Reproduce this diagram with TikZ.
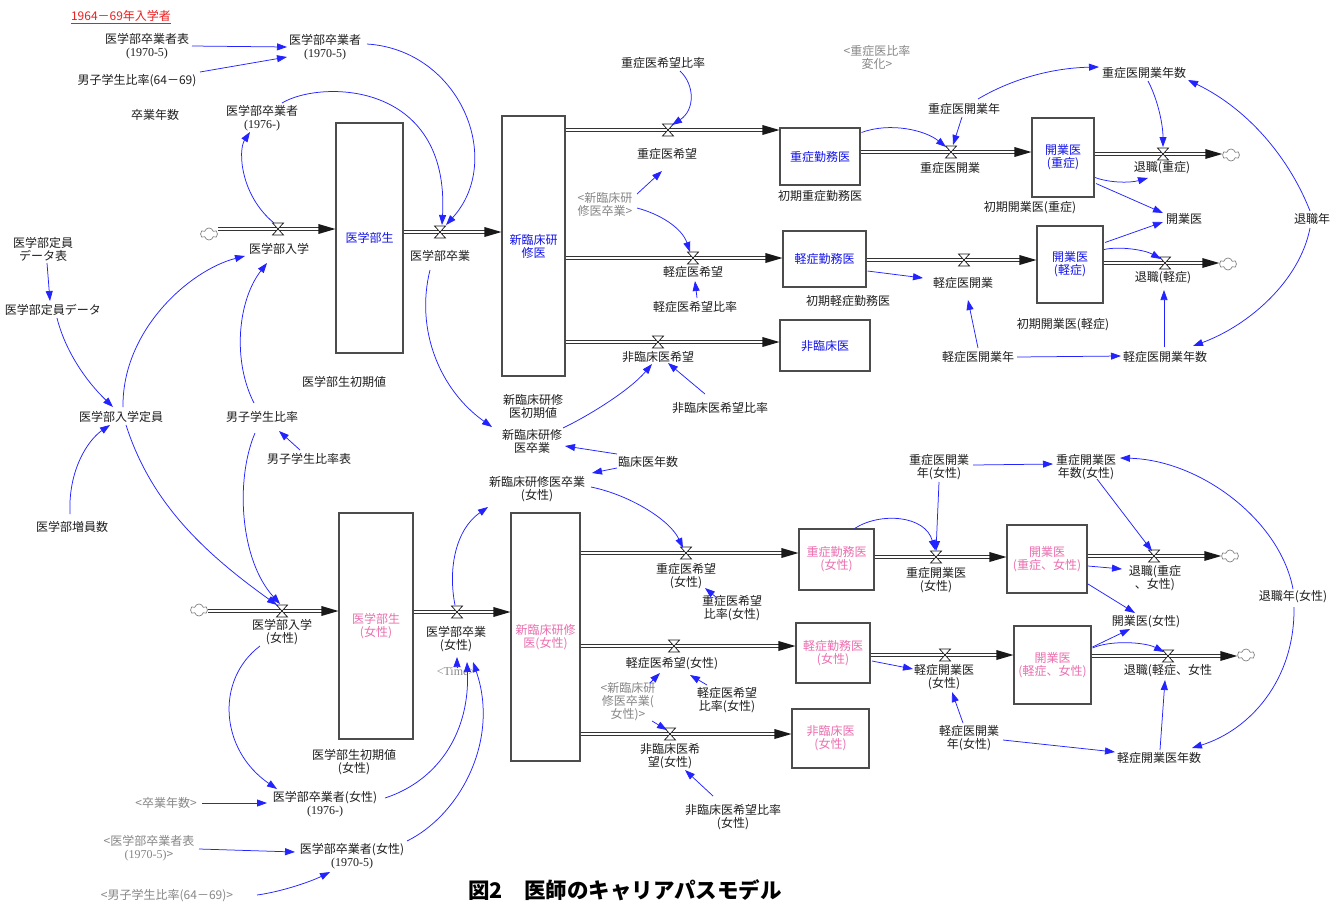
\documentclass[tikz,border=0pt]{standalone}
\usepackage{fontspec}
\setmainfont{Noto Sans CJK JP}
\newfontfamily\serifl{Liberation Serif}
\usetikzlibrary{arrows.meta,calc,shapes.symbols}
\definecolor{linkblue}{RGB}{35,35,255}
\definecolor{stockblue}{RGB}{20,20,235}
\definecolor{stockpink}{RGB}{236,110,175}
\definecolor{shadowgray}{RGB}{135,135,135}
\definecolor{titlered}{RGB}{235,30,30}
\tikzset{
  tippic/.pic={\fill[black!90] (0,0) -- (-17,-5) -- (-17,5) -- cycle;},
  valvepic/.pic={\draw[black!90, line width=0.7pt, fill=white] (-5.5,-6) -- (5.5,-6) -- (-5.5,6) -- (5.5,6) -- cycle;}
}
\begin{document}
\begin{tikzpicture}[x=1pt,y=-1pt,
  lbl/.style={font=\fontsize{12}{13}\selectfont, align=center, inner sep=1pt, text=black!88},
  shadowlbl/.style={lbl, text=shadowgray},
  stockbox/.style={draw=black!70, line width=1.1pt, fill=white, align=center, inner sep=0pt, font=\fontsize{12}{13}\selectfont},
  stockM/.style={stockbox, text=stockblue},
  stockF/.style={stockbox, text=stockpink},
  pipe/.style={draw=black!80, line width=0.9pt, double=white, double distance=2.2pt, shorten >=8pt},
  info/.style={draw=linkblue, line width=0.75pt, -{Triangle[length=10pt,width=7pt]}},
  src/.style={cloud, cloud puffs=6, aspect=1.4, draw=black!50, line width=0.7pt, minimum width=17pt, minimum height=12pt, inner sep=0pt, fill=white}
]
\fill[white] (0,0) rectangle (1341,903);
\useasboundingbox (0,0) rectangle (1341,903);

% ---------- stocks ----------
\node[stockM, minimum width=67pt, minimum height=230pt] (sIG) at (369.5,238) {医学部生};
\node[stockM, minimum width=63pt, minimum height=260pt] (sSR) at (533.5,246) {新臨床研\\修医};
\node[stockM, minimum width=80pt, minimum height=57pt] (sJK) at (820,156.5) {重症勤務医};
\node[stockM, minimum width=83pt, minimum height=56pt] (sKK) at (824.5,259) {軽症勤務医};
\node[stockM, minimum width=90pt, minimum height=51pt] (sHR) at (825,345.5) {非臨床医};
\node[stockM, minimum width=62pt, minimum height=79pt] (sKJ) at (1063,157.5) {開業医\\(重症)};
\node[stockM, minimum width=66pt, minimum height=77pt] (sKL) at (1070,264.5) {開業医\\(軽症)};
\node[stockF, minimum width=74pt, minimum height=226pt] (sIGf) at (376,626) {医学部生\\(女性)};
\node[stockF, minimum width=69pt, minimum height=248pt] (sSRf) at (545.5,637) {新臨床研修\\医(女性)};
\node[stockF, minimum width=75pt, minimum height=61pt] (sJKf) at (836.5,559.5) {重症勤務医\\(女性)};
\node[stockF, minimum width=74pt, minimum height=60pt] (sKKf) at (833,653) {軽症勤務医\\(女性)};
\node[stockF, minimum width=77pt, minimum height=59pt] (sHRf) at (830.5,738.5) {非臨床医\\(女性)};
\node[stockF, minimum width=80pt, minimum height=68pt] (sKJf) at (1047,559) {開業医\\(重症、女性)};
\node[stockF, minimum width=77pt, minimum height=78pt] (sKLf) at (1052.5,665) {開業医\\(軽症、女性)};

% ---------- clouds ----------
\node[src] (c1) at (209,234) {};
\node[src] (c2) at (1231,155) {};
\node[src] (c3) at (1228,264) {};
\node[src] (c4) at (199,610) {};
\node[src] (c5) at (1230,556) {};
\node[src] (c6) at (1246,655) {};

% ---------- valves ----------
\coordinate (vNyu) at (278,229);
\coordinate (vSotsu) at (440,232);
\coordinate (vJkb) at (668,130);
\coordinate (vKkb) at (693,258);
\coordinate (vHkb) at (658,342);
\coordinate (vJk) at (951,152);
\coordinate (vTj) at (1163,154);
\coordinate (vKk) at (964,260);
\coordinate (vTk) at (1165,263);
\coordinate (vNyuf) at (282,611);
\coordinate (vSotsuf) at (457,612);
\coordinate (vJkbf) at (686,553);
\coordinate (vKkbf) at (674,646);
\coordinate (vHkbf) at (670,734);
\coordinate (vJkf) at (936,557);
\coordinate (vTjf) at (1154,556);
\coordinate (vKkf) at (945,655);
\coordinate (vTkf) at (1168,656);

% ---------- pipes ----------
\draw[pipe] (c1.east |- vNyu) -- (sIG.west |- vNyu);
\draw[pipe] (sIG.east |- vSotsu) -- (sSR.west |- vSotsu);
\draw[pipe] (sSR.east |- vJkb) -- (sJK.west |- vJkb);
\draw[pipe] (sSR.east |- vKkb) -- (sKK.west |- vKkb);
\draw[pipe] (sSR.east |- vHkb) -- (sHR.west |- vHkb);
\draw[pipe] (sJK.east |- vJk) -- (sKJ.west |- vJk);
\draw[pipe] (sKJ.east |- vTj) -- (c2.west |- vTj);
\draw[pipe] (sKK.east |- vKk) -- (sKL.west |- vKk);
\draw[pipe] (sKL.east |- vTk) -- (c3.west |- vTk);
\draw[pipe] (c4.east |- vNyuf) -- (sIGf.west |- vNyuf);
\draw[pipe] (sIGf.east |- vSotsuf) -- (sSRf.west |- vSotsuf);
\draw[pipe] (sSRf.east |- vJkbf) -- (sJKf.west |- vJkbf);
\draw[pipe] (sSRf.east |- vKkbf) -- (sKKf.west |- vKkbf);
\draw[pipe] (sSRf.east |- vHkbf) -- (sHRf.west |- vHkbf);
\draw[pipe] (sJKf.east |- vJkf) -- (sKJf.west |- vJkf);
\draw[pipe] (sKJf.east |- vTjf) -- (c5.west |- vTjf);
\draw[pipe] (sKKf.east |- vKkf) -- (sKLf.west |- vKkf);
\draw[pipe] (sKLf.east |- vTkf) -- (c6.west |- vTkf);

\pic at (sIG.west |- vNyu) {tippic};
\pic at (sSR.west |- vSotsu) {tippic};
\pic at (sJK.west |- vJkb) {tippic};
\pic at (sKK.west |- vKkb) {tippic};
\pic at (sHR.west |- vHkb) {tippic};
\pic at (sKJ.west |- vJk) {tippic};
\pic at (c2.west |- vTj) {tippic};
\pic at (sKL.west |- vKk) {tippic};
\pic at (c3.west |- vTk) {tippic};
\pic at (sIGf.west |- vNyuf) {tippic};
\pic at (sSRf.west |- vSotsuf) {tippic};
\pic at (sJKf.west |- vJkbf) {tippic};
\pic at (sKKf.west |- vKkbf) {tippic};
\pic at (sHRf.west |- vHkbf) {tippic};
\pic at (sKJf.west |- vJkf) {tippic};
\pic at (c5.west |- vTjf) {tippic};
\pic at (sKLf.west |- vKkf) {tippic};
\pic at (c6.west |- vTkf) {tippic};

\foreach \v in {vNyu,vSotsu,vJkb,vKkb,vHkb,vJk,vTj,vKk,vTk,vNyuf,vSotsuf,vJkbf,vKkbf,vHkbf,vJkf,vTjf,vKkf,vTkf}
  \pic at (\v) {valvepic};

% ---------- labels (top) ----------
\node[lbl, text=titlered] (tTitle) at (121,17) {\underline{1964－69年入学者}};
\node[lbl] (nGsh) at (147,46) {医学部卒業者表\\{\serifl (1970-5)}};
\node[lbl] (nGs70) at (325,47) {医学部卒業者\\{\serifl (1970-5)}};
\node[lbl] (nDr) at (137,81) {男子学生比率(64－69)};
\node[lbl] (nSnen) at (155,115) {卒業年数};
\node[lbl] (nGs76) at (262,118) {医学部卒業者\\{\serifl (1976-)}};
\node[lbl] (nNyu) at (279,249) {医学部入学};
\node[lbl] (nSotsu) at (440,256) {医学部卒業};
\node[lbl] (nGtdh) at (43,249) {医学部定員\\データ表};
\node[lbl] (nGtd) at (53,310) {医学部定員データ};
\node[lbl] (nGnt) at (121,417) {医学部入学定員};
\node[lbl] (nDsr) at (262,417) {男子学生比率};
\node[lbl] (nDsrh) at (309,459) {男子学生比率表};
\node[lbl] (nGsinit) at (344,382) {医学部生初期値};
\node[lbl] (nGzin) at (72,527) {医学部増員数};
\node[lbl] (nJkbr) at (663,63) {重症医希望比率};
\node[lbl] (nJkb) at (667,154) {重症医希望};
\node[shadowlbl] (nSrsg) at (605,204) {<新臨床研\\修医卒業>};
\node[lbl] (nShjk) at (820,196) {初期重症勤務医};
\node[lbl] (nKkb) at (693,272) {軽症医希望};
\node[lbl] (nKkbr) at (695,307) {軽症医希望比率};
\node[lbl] (nShkk) at (848,301) {初期軽症勤務医};
\node[lbl] (nHkb) at (658,357) {非臨床医希望};
\node[lbl] (nHkbr) at (720,408) {非臨床医希望比率};
\node[lbl] (nSrinit) at (533,406) {新臨床研修\\医初期値};
\node[lbl] (nSrsotsu) at (532,441) {新臨床研修\\医卒業};
\node[lbl] (nRnen) at (648,462) {臨床医年数};
\node[lbl] (nSrsotsuf) at (537,489) {新臨床研修医卒業\\(女性)};
\node[shadowlbl] (nJhr) at (877,57) {<重症医比率\\変化>};
\node[lbl] (nJkn) at (1144,73) {重症医開業年数};
\node[lbl] (nJknen) at (964,109) {重症医開業年};
\node[lbl] (nJk) at (950,168) {重症医開業};
\node[lbl] (nTj) at (1162,168) {退職(重症)};
\node[lbl] (nShkj) at (1030,208) {初期開業医(重症)};
\node[lbl] (nKgy) at (1184,219) {開業医};
\node[lbl] (nTnen) at (1312,219) {退職年};
\node[lbl] (nKk) at (963,283) {軽症医開業};
\node[lbl] (nTk) at (1163,278) {退職(軽症)};
\node[lbl] (nShkl) at (1063,325) {初期開業医(軽症)};
\node[lbl] (nKknen) at (978,357) {軽症医開業年};
\node[lbl] (nKkn) at (1165,357) {軽症医開業年数};

% ---------- labels (bottom) ----------
\node[lbl] (nNyuf) at (282,632) {医学部入学\\(女性)};
\node[lbl] (nSotsuf) at (456,639) {医学部卒業\\(女性)};
\node[shadowlbl] (nTime) at (456,672) {{\serifl <Time>}};
\node[lbl] (nGsinitf) at (354,762) {医学部生初期値\\(女性)};
\node[lbl] (nJkbf) at (686,576) {重症医希望\\(女性)};
\node[lbl] (nJkbfr) at (732,608) {重症医希望\\比率(女性)};
\node[lbl] (nKkbf) at (672,664) {軽症医希望(女性)};
\node[shadowlbl] (nSrsgf) at (628,702) {<新臨床研\\修医卒業(\\女性)>};
\node[lbl] (nKkbfr) at (727,700) {軽症医希望\\比率(女性)};
\node[lbl] (nHkbf) at (670,756) {非臨床医希\\望(女性)};
\node[lbl] (nHkbfr) at (733,817) {非臨床医希望比率\\(女性)};
\node[shadowlbl] (nSnenf) at (166,803) {<卒業年数>};
\node[lbl] (nGs76f) at (325,804) {医学部卒業者(女性)\\{\serifl (1976-)}};
\node[shadowlbl] (nGshf) at (149,848) {<医学部卒業者表\\{\serifl (1970-5)}>};
\node[lbl] (nGs70f) at (352,856) {医学部卒業者(女性)\\{\serifl (1970-5)}};
\node[shadowlbl] (nDrf) at (167,896) {<男子学生比率(64－69)>};
\node[lbl] (nJknenf) at (939,467) {重症医開業\\年(女性)};
\node[lbl] (nJknf) at (1086,467) {重症開業医\\年数(女性)};
\node[lbl] (nJkf) at (936,580) {重症開業医\\(女性)};
\node[lbl] (nTjf) at (1155,578) {退職(重症\\、女性)};
\node[lbl] (nTnenf) at (1293,597) {退職年(女性)};
\node[lbl] (nKgyf) at (1146,622) {開業医(女性)};
\node[lbl] (nKkf) at (944,677) {軽症開業医\\(女性)};
\node[lbl] (nTkf) at (1168,671) {退職(軽症、女性};
\node[lbl] (nKknenf) at (969,738) {軽症医開業\\年(女性)};
\node[lbl] (nKknf) at (1159,758) {軽症開業医年数};
\node[font=\fontsize{21.5}{24}\selectfont\bfseries, text=black, inner sep=0pt] (nCap) at (625,890) {図2　医師のキャリアパスモデル};

% ---------- information links (top) ----------
\draw[info] ($(nGsh)+(45,0)$) -- ($(nGs70)+(-38,0)$);
\draw[info] ($(nDr)+(63,-9)$) -- ($(nGs70)+(-38,10)$);
\draw[info] ($(nGs70)+(42,-3)$) .. controls (460,50) and (505,160) .. ($(vSotsu)+(6,-7)$);
\draw[info] ($(nGs76)+(20,-15)$) .. controls (320,80) and (450,80) .. ($(vSotsu)+(2,-7)$);
\draw[info] ($(vNyu)+(-4,-6)$) .. controls (240,195) and (238,150) .. ($(nGs76)+(-12,14)$);
\draw[info] ($(nGtdh)+(4,14)$) -- ($(nGtd)+(-3,-9)$);
\draw[info] ($(nGtd)+(4,8)$) .. controls (65,350) and (85,380) .. ($(nGnt)+(-8,-10)$);
\draw[info] ($(nGnt)+(2,-10)$) .. controls (122,330) and (190,270) .. ($(nNyu)+(-34,7)$);
\draw[info] ($(nDsr)+(-8,-14)$) .. controls (232,360) and (238,300) .. ($(nNyu)+(-12,14)$);
\draw[info] ($(nDsrh)+(-9,-9)$) -- ($(nDsr)+(17,14)$);
\draw[info] ($(nGzin)+(-2,-13)$) .. controls (68,470) and (88,440) .. ($(nGnt)+(-11,8)$);
\draw[info] ($(nGnt)+(5,8)$) .. controls (150,500) and (200,550) .. ($(vNyuf)+(-5,-6)$);
\draw[info] ($(nDsr)+(-7,16)$) .. controls (235,480) and (240,560) .. ($(vNyuf)+(-2,-7)$);
\draw[info] ($(nSotsu)+(-10,14)$) .. controls (415,330) and (440,390) .. ($(nSrsotsu)+(-40,-14)$);
\draw[info] ($(nSrsotsu)+(31,-13)$) .. controls (590,415) and (630,390) .. ($(nHkb)+(-6,7)$);
\draw[info] ($(nHkbr)+(-15,-14)$) -- ($(nHkb)+(10,6)$);
\draw[info] ($(nRnen)+(-31,-8)$) -- ($(nSrsotsu)+(33,5)$);
\draw[info] ($(nRnen)+(-31,6)$) -- ($(nSrsotsuf)+(55,-16)$);
\draw[info] ($(nJkbr)+(17,8)$) .. controls (695,85) and (695,110) .. ($(vJkb)+(4,-5)$);
\draw[info] ($(nSrsg)+(32,-10)$) -- ($(nJkb)+(-5,17)$);
\draw[info] ($(nSrsg)+(32,4)$) .. controls (660,214) and (682,228) .. ($(vKkb)+(-3,-6)$);
\draw[info] ($(nKkbr)+(2,-9)$) -- ($(nKkb)+(2,9)$);
\draw[info] ($(sJK.north east)+(1,5)$) .. controls (890,122) and (925,130) .. ($(vJk)+(-5,-5)$);
\draw[info] ($(nJknen)+(-2,8)$) -- ($(vJk)+(2,-7)$);
\draw[info] ($(nJknen)+(14,-10)$) .. controls (1010,80) and (1050,68) .. ($(nJkn)+(-45,-6)$);
\draw[info] ($(nJkn)+(4,8)$) .. controls (1158,100) and (1163,125) .. ($(vTj)+(0,-7)$);
\draw[info] ($(nTnen)+(-2,-8)$) .. controls (1290,160) and (1250,110) .. ($(nJkn)+(44,7)$);
\draw[info] ($(nTnen)+(-2,9)$) .. controls (1300,280) and (1250,325) .. ($(nKkn)+(28,-11)$);
\draw[info] ($(sKJ)+(32,20)$) .. controls (1110,183) and (1130,183) .. ($(nTj)+(-14,10)$);
\draw[info] ($(sKJ)+(33,26)$) -- ($(nKgy)+(-21,-6)$);
\draw[info] ($(sKL)+(35,-22)$) -- ($(nKgy)+(-21,3)$);
\draw[info] ($(sKL)+(34,-15)$) .. controls (1120,246) and (1145,250) .. ($(vTk)+(-4,-4)$);
\draw[info] ($(nKkn)+(-1,-10)$) -- ($(nTk)+(1,12)$);
\draw[info] ($(nKknen)+(39,0)$) -- ($(nKkn)+(-44,-1)$);
\draw[info] ($(nKknen)+(0,-9)$) -- ($(nKk)+(5,17)$);
\draw[info] ($(sKK)+(43,12)$) -- ($(nKk)+(-40,-5)$);

% ---------- information links (bottom) ----------
\draw[info] ($(nNyuf)+(-22,14)$) .. controls (215,680) and (220,750) .. ($(nGs76f)+(-48,-15)$);
\draw[info] ($(nSnenf)+(36,0)$) -- ($(nGs76f)+(-58,-1)$);
\draw[info] ($(nGshf)+(50,1)$) -- ($(nGs70f)+(-57,-4)$);
\draw[info] ($(nDrf)+(90,-1)$) .. controls (280,892) and (310,882) .. ($(nGs70f)+(-22,16)$);
\draw[info] ($(nGs76f)+(60,-6)$) .. controls (440,780) and (470,730) .. ($(nSotsuf)+(11,23)$);
\draw[info] ($(nGs70f)+(55,-15)$) .. controls (460,815) and (500,740) .. ($(nSotsuf)+(17,23)$);
\draw[info] ($(nTime)+(1,-4)$) -- ($(nSotsuf)+(1,18)$);
\draw[info] ($(vSotsuf)+(-2,-7)$) .. controls (448,570) and (455,530) .. ($(nSrsotsuf)+(-49,18)$);
\draw[info] ($(nSrsotsuf)+(54,-2)$) .. controls (630,495) and (670,520) .. ($(vJkbf)+(-3,-5)$);
\draw[info] ($(nJkbfr)+(-15,-10)$) -- ($(nJkbf)+(19,12)$);
\draw[info] ($(nSrsgf)+(22,-19)$) -- ($(nKkbf)+(-12,9)$);
\draw[info] ($(nKkbfr)+(-20,-15)$) -- ($(nKkbf)+(18,11)$);
\draw[info] ($(nSrsgf)+(24,19)$) -- ($(vHkbf)+(-3,-4)$);
\draw[info] ($(nHkbfr)+(-20,-21)$) -- ($(nHkbf)+(15,14)$);
\draw[info] ($(sJKf)+(18,-31)$) .. controls (880,512) and (925,515) .. ($(vJkf)+(-1,-7)$);
\draw[info] ($(nJknenf)+(0,15)$) -- ($(vJkf)+(0,-6)$);
\draw[info] ($(nJknenf)+(34,-2)$) -- ($(nJknf)+(-33,-3)$);
\draw[info] ($(nJknf)+(11,12)$) -- ($(vTjf)+(-2,-5)$);
\draw[info] ($(nTnenf)+(0,-8)$) .. controls (1280,520) and (1200,460) .. ($(nJknf)+(34,-9)$);
\draw[info] ($(nTnenf)+(1,10)$) .. controls (1295,680) and (1250,730) .. ($(nKknf)+(33,-10)$);
\draw[info] ($(sKJf)+(41,7)$) -- ($(nTjf)+(-33,-9)$);
\draw[info] ($(sKJf)+(41,25)$) -- ($(nKgyf)+(-11,-9)$);
\draw[info] ($(sKLf)+(40,-18)$) -- ($(nKgyf)+(-16,7)$);
\draw[info] ($(sKLf)+(40,-17)$) .. controls (1110,640) and (1145,642) .. ($(vTkf)+(-4,-4)$);
\draw[info] ($(nKknf)+(1,-8)$) -- ($(nTkf)+(-3,9)$);
\draw[info] ($(nKknenf)+(34,2)$) -- ($(nKknf)+(-44,-6)$);
\draw[info] ($(nKknenf)+(-6,-15)$) -- ($(nKkf)+(8,15)$);
\draw[info] ($(sKKf)+(39,8)$) -- ($(nKkf)+(-31,-8)$);
\end{tikzpicture}
\end{document}
